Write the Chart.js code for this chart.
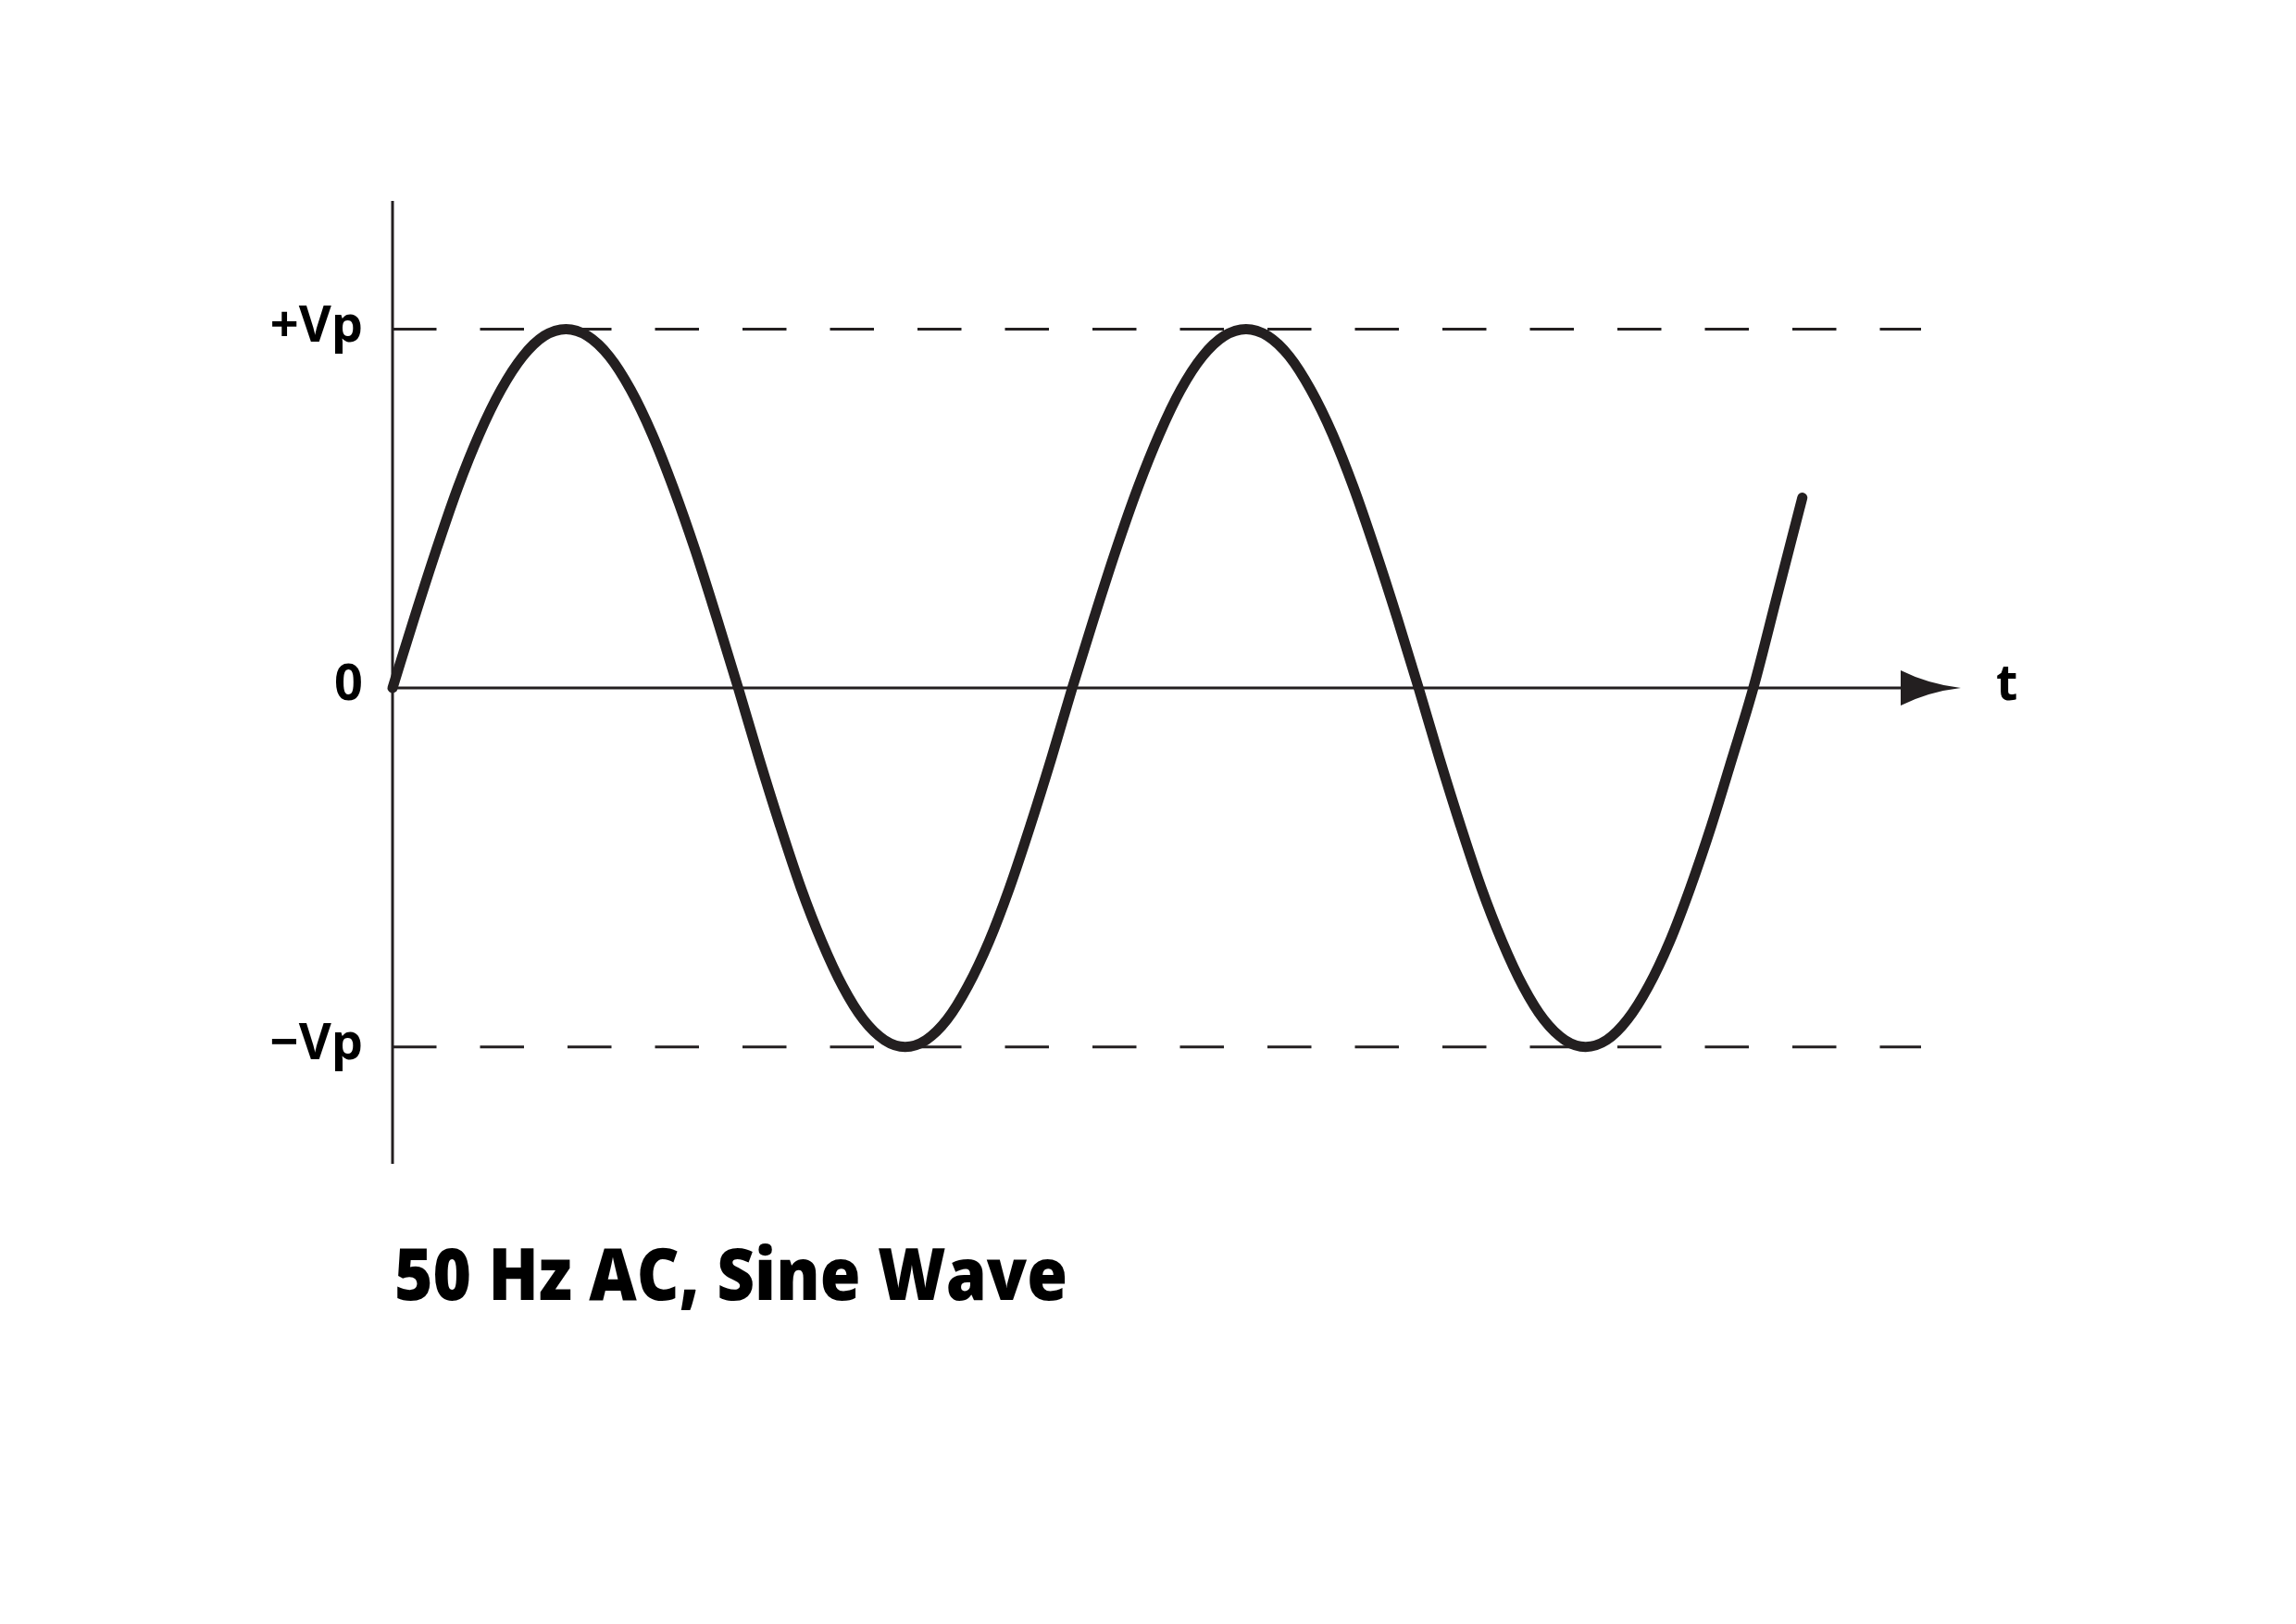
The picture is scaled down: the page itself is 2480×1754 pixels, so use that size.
<!DOCTYPE html>
<html>
<head>
<meta charset="utf-8">
<title>50 Hz AC, Sine Wave</title>
<script src="https://cdn.jsdelivr.net/npm/chart.js@4.4.1/dist/chart.umd.min.js"></script>
<style>
  html, body { margin: 0; padding: 0; background: #fff; }
  canvas { display: block; }
</style>
</head>
<body>
<canvas id="sineChart" width="2480" height="1754"></canvas>
<script>
// Valores (tempo em ms, tensao em unidades de Vp)
const timeMs = [
    0, 0.64, 1.28, 1.91, 2.55, 3.19, 3.83, 4.46, 5.1,
    5.73, 6.37, 7.0, 7.63, 8.26, 8.9, 9.53, 10.16,
    10.77, 11.39, 12.0, 12.62, 13.23, 13.84, 14.46, 15.07,
    15.68, 16.3, 16.91, 17.53, 18.14, 18.75, 19.37, 19.98,
    20.62, 21.26, 21.9, 22.54, 23.17, 23.81, 24.45, 25.09,
    25.72, 26.36, 26.99, 27.63, 28.26, 28.89, 29.53, 30.16,
    30.77, 31.39, 32.0, 32.62, 33.23, 33.84, 34.46, 35.07,
    35.69, 36.3, 36.92, 37.54, 38.15, 38.77, 39.38, 40.0,
    40.72, 41.44
];
const voltage = [
    0, 0.195, 0.383, 0.556, 0.707, 0.831, 0.924, 0.981, 1,
    0.981, 0.924, 0.831, 0.707, 0.556, 0.383, 0.195, 0,
    -0.195, -0.383, -0.556, -0.707, -0.831, -0.924, -0.981, -1,
    -0.981, -0.924, -0.831, -0.707, -0.556, -0.383, -0.195, 0,
    0.195, 0.383, 0.556, 0.707, 0.831, 0.924, 0.981, 1,
    0.981, 0.924, 0.831, 0.707, 0.556, 0.383, 0.195, 0,
    -0.195, -0.383, -0.556, -0.707, -0.831, -0.924, -0.981, -1,
    -0.981, -0.924, -0.831, -0.707, -0.556, -0.383, -0.195, 0,
    0.265, 0.53
];

// Linhas tracejadas de pico
const peakLevels = [1, -1];
const peakLineEnd = 44.93;

// Rotulos do eixo vertical
const yTickValues = [1, 0, -1];
const yTickLabels = ['+Vp', '0', '\u2212Vp'];
const xAxisLabel = 't';
const chartTitle = '50 Hz AC, Sine Wave';

// Limites das escalas
const xMax = 46.1;
const yMin = -1.326;
const yMax = 1.357;

const INK = '#231f20';

// Pontos da curva
const wavePoints = timeMs.map((t, i) => ({ x: t, y: voltage[i] }));

// Linhas de pico
const peakDatasets = peakLevels.map(level => ({
    data: [{ x: 0, y: level }, { x: peakLineEnd, y: level }],
    borderColor: INK,
    borderWidth: 3,
    borderDash: [47.5, 47],
    pointRadius: 0,
    fill: false
}));

// Eixos, seta, rotulos e titulo
const axesPlugin = {
    id: 'axesPlugin',
    beforeDatasetsDraw(chart) {
        const ctx = chart.ctx;
        const xs = chart.scales.x;
        const ys = chart.scales.y;
        const area = chart.chartArea;
        const x0 = xs.getPixelForValue(0);
        const y0 = ys.getPixelForValue(0);
        const tip = xs.getPixelForValue(xMax);

        ctx.save();
        ctx.strokeStyle = INK;
        ctx.lineWidth = 3;

        // eixo vertical
        ctx.beginPath();
        ctx.moveTo(x0, area.top);
        ctx.lineTo(x0, area.bottom);
        ctx.stroke();

        // eixo horizontal
        ctx.beginPath();
        ctx.moveTo(x0, y0);
        ctx.lineTo(tip - 60, y0);
        ctx.stroke();

        // seta
        const base = tip - 65;
        ctx.fillStyle = INK;
        ctx.beginPath();
        ctx.moveTo(base, y0 - 19);
        ctx.quadraticCurveTo(base + 30, y0 - 4, tip, y0);
        ctx.quadraticCurveTo(base + 30, y0 + 4, base, y0 + 19);
        ctx.closePath();
        ctx.fill();
        ctx.restore();
    },
    afterDraw(chart) {
        const ctx = chart.ctx;
        const xs = chart.scales.x;
        const ys = chart.scales.y;
        const x0 = xs.getPixelForValue(0);
        const tip = xs.getPixelForValue(xMax);

        ctx.save();
        ctx.fillStyle = '#000';
        ctx.font = 'bold 54px "Open Sans"';
        ctx.textBaseline = 'middle';
        ctx.textAlign = 'right';
        yTickValues.forEach((v, i) => {
            ctx.fillText(yTickLabels[i], x0 - 32, ys.getPixelForValue(v) - 2);
        });

        ctx.textAlign = 'left';
        ctx.fillText(xAxisLabel, tip + 38, ys.getPixelForValue(0) - 2);

        // titulo
        ctx.font = '800 78px "Open Sans"';
        ctx.textBaseline = 'alphabetic';
        const w = ctx.measureText(chartTitle).width;
        ctx.translate(x0 + 2, 1404);
        ctx.scale(727 / w, 1);
        ctx.fillText(chartTitle, 0, 0);
        ctx.restore();
    }
};

const ctx = document.getElementById('sineChart').getContext('2d');
new Chart(ctx, {
    type: 'line',
    data: {
        datasets: [
            ...peakDatasets,
            {
                data: wavePoints,
                borderColor: INK,
                borderWidth: 11,
                borderCapStyle: 'round',
                borderJoinStyle: 'round',
                cubicInterpolationMode: 'monotone',
                pointRadius: 0,
                fill: false,
                clip: false
            }
        ]
    },
    options: {
        responsive: false,
        animation: false,
        layout: {
            padding: { left: 424, right: 362, top: 217, bottom: 497 }
        },
        plugins: {
            legend: { display: false },
            tooltip: { enabled: false }
        },
        scales: {
            x: { type: 'linear', min: 0, max: xMax, display: false },
            y: { type: 'linear', min: yMin, max: yMax, display: false }
        }
    },
    plugins: [axesPlugin]
});
</script>
</body>
</html>
